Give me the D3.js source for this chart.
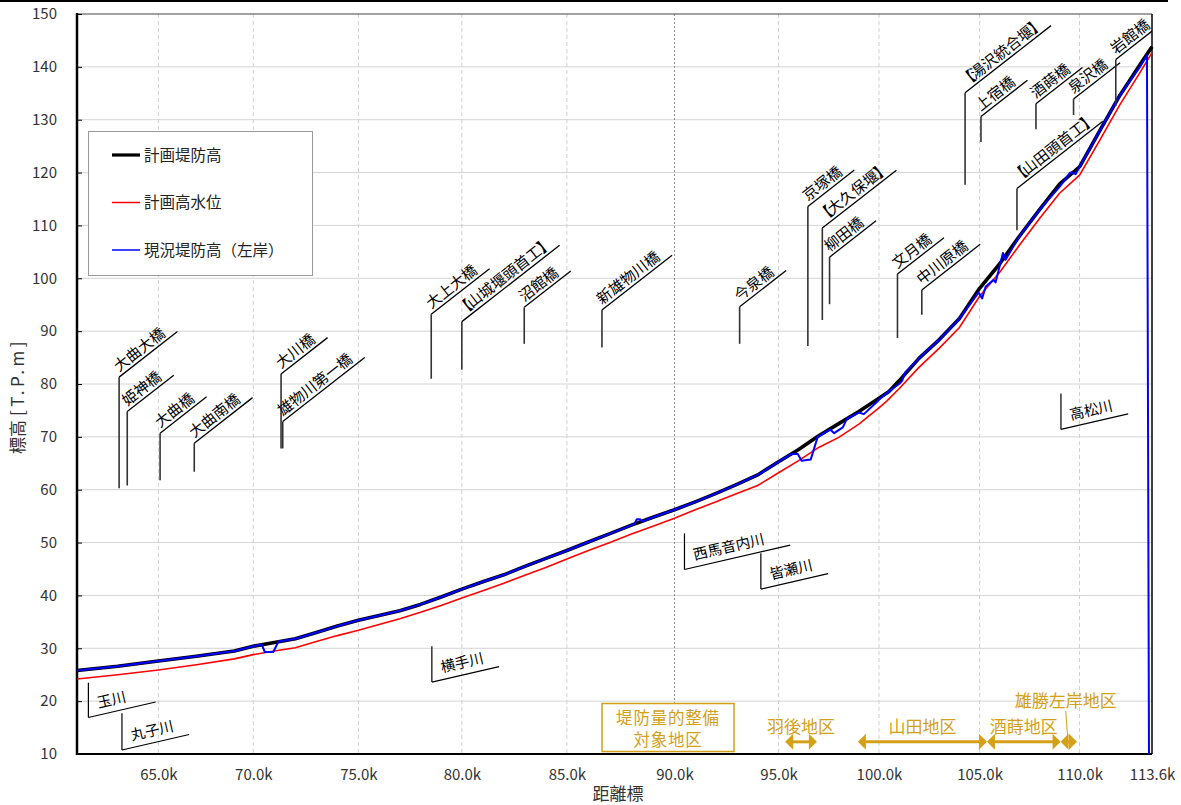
<!DOCTYPE html>
<html><head><meta charset="utf-8">
<script src="https://cdn.jsdelivr.net/npm/d3@7"></script>
<style>body{margin:0;background:#fff}svg{display:block}</style>
</head><body>
<svg id="c" width="1181" height="805"></svg>
<script>
// ---------- data ----------
const yTicks = [10,20,30,40,50,60,70,80,90,100,110,120,130,140,150];
const xTicks = [65,70,75,80,85,90,95,100,105,110,113.6];
const xTickLabels = ["65.0k","70.0k","75.0k","80.0k","85.0k","90.0k","95.0k","100.0k","105.0k","110.0k","113.6k"];
const xStart = 61.0;

// 計画堤防高
const dikeKm = [61.0,63.0,65.0,67.0,69.0,70.0,71.0,72.0,73.0,74.0,75.0,76.0,77.0,78.0,79.0,80.0,81.0,82.0,83.0,84.0,85.0,86.0,87.0,88.0,89.0,90.0,91.0,92.0,93.0,94.0,95.0,96.0,97.0,98.0,99.0,100.0,100.5,101.0,102.0,103.0,104.0,105.0,106.0,107.0,108.0,109.0,110.0,111.0,112.0,113.0,113.6];
const dikeH  = [25.8,26.6,27.6,28.5,29.5,30.4,31.1,31.8,33.0,34.2,35.3,36.2,37.1,38.3,39.7,41.2,42.6,43.9,45.5,47.0,48.5,50.1,51.7,53.3,54.8,56.2,57.7,59.3,61.0,62.8,65.3,67.6,70.2,72.5,74.8,77.3,78.6,80.6,84.9,88.4,92.4,98.1,102.7,108.0,113.0,117.8,121.1,127.9,134.6,140.4,143.8];

// 計画高水位
const hwlKm = [61.0,63.0,65.0,67.0,69.0,70.0,71.0,72.0,73.0,74.0,75.0,76.0,77.0,78.0,79.0,80.0,81.0,82.0,83.0,84.0,85.0,86.0,87.0,88.0,89.0,90.0,91.0,92.0,93.0,94.0,95.0,96.0,97.0,98.0,99.0,100.0,100.4,101.0,102.0,103.0,104.0,105.0,106.0,107.0,108.0,109.0,110.0,111.0,112.0,113.0,113.6];
const hwlH  = [24.2,25.0,25.9,26.9,28.0,28.8,29.5,30.1,31.3,32.4,33.4,34.5,35.6,36.8,38.1,39.5,40.9,42.3,43.8,45.3,46.9,48.5,50.0,51.6,53.1,54.6,56.2,57.7,59.3,60.8,63.2,65.5,68.0,69.9,72.4,75.5,76.8,79.1,83.2,86.8,90.7,96.6,101.1,106.3,111.3,116.1,119.5,126.1,132.8,138.9,142.7];

// 現況堤防高（左岸）
const bankKm = [61.0,63.0,65.0,67.0,69.0,70.0,70.4,70.55,70.95,71.2,72.0,73.0,74.0,75.0,76.0,77.0,78.0,79.0,80.0,81.0,82.0,83.0,84.0,85.0,86.0,87.0,88.0,88.15,88.25,88.4,88.5,89.0,90.0,91.0,92.0,93.0,94.0,95.0,95.6,95.95,96.15,96.6,96.95,97.57,97.77,98.2,98.4,99.0,99.25,99.92,100.07,100.5,101.0,101.15,101.3,102.0,103.0,104.0,104.95,105.13,105.3,105.7,105.8,106.17,106.3,107.0,108.0,109.0,109.53,109.8,110.0,111.0,112.0,113.0,113.35,113.45];
const bankH  = [25.8,26.6,27.6,28.5,29.5,30.4,30.7,29.3,29.3,31.3,31.8,33.0,34.2,35.3,36.2,37.1,38.3,39.7,41.2,42.6,43.9,45.5,47.0,48.5,50.1,51.7,53.3,53.6,54.4,54.4,54.0,54.8,56.2,57.7,59.3,61.0,62.8,65.3,66.7,66.8,65.5,65.7,70.0,71.4,70.7,71.8,73.4,74.6,74.3,76.7,77.3,78.6,80.0,80.6,82.2,84.9,88.4,92.4,97.3,96.2,98.4,99.7,99.2,104.8,103.5,108.0,113.0,117.3,120.0,119.7,121.1,127.9,134.6,140.0,142.2,10.0];

// 橋梁・堰
const bridgeNames = ["大曲大橋","姫神橋","大曲橋","大曲南橋","大川橋","雄物川第一橋","大上大橋","【山城堰頭首工】","沼館橋","新雄物川橋","今泉橋","京塚橋","【大久保堰】","柳田橋","文月橋","中川原橋","【湯沢統合堰】","上宿橋","【山田頭首工】","酒蒔橋","泉沢橋","岩館橋"];
const bridgeKm   = [63.07,63.47,65.09,66.89,71.32,71.40,78.52,80.0,82.97,86.63,93.13,96.46,97.18,97.54,100.92,102.13,104.28,105.07,106.87,107.82,109.7,111.8];
const bridgeLow  = [60.3,60.8,61.8,63.4,67.8,67.8,81.0,82.7,87.6,86.9,87.6,87.2,92.1,95.1,88.7,93.1,117.7,125.8,109.1,128.2,130.9,132.6];
const bridgeHigh = [81.3,74.8,70.7,68.8,81.9,72.9,93.2,91.8,94.5,94.0,94.6,113.6,109.5,104.0,100.8,97.8,135.1,130.6,117.0,133.0,133.9,141.4];

// 支川
const riverNames = ["玉川","丸子川","横手川","西馬音内川","皆瀬川","高松川"];
const riverKm   = [61.56,63.21,78.55,90.48,94.15,109.07];
const riverLow  = [16.9,10.75,23.6,44.9,41.2,71.4];
const riverHigh = [23.5,17.7,30.4,51.75,48.0,78.2];

// 地区
const districtNames = ["羽後地区","山田地区","酒蒔地区","雄勝左岸地区"];
const districtFrom  = [95.33,98.95,105.37,109.05];
const districtTo    = [96.91,105.37,109.05,109.87];
const districtLevel = 12.3;
const targetLines = ["堤防量的整備","対象地区"];
const targetKm = 89.7;

const legendNames = ["計画堤防高","計画高水位","現況堤防高（左岸）"];

// ---------- layout ----------
const M = {l:77, t:14, r:1152, b:754};
const xFrac = [0,0.0757,0.1640,0.2618,0.3580,0.4557,0.5558,0.6526,0.7460,0.8396,0.9326,1];
const x = d3.scaleLinear().domain([xStart, ...xTicks]).range(xFrac.map(f => M.l + f*(M.r-M.l)));
const y = d3.scaleLinear().domain([10,150]).range([M.b, M.t]);
const JP = "'Noto Sans CJK JP','Noto Sans',sans-serif";
const ORANGE = "#d4a017";

const svg = d3.select("#c");
svg.append("rect").attr("width",1181).attr("height",805).attr("fill","#fff");
svg.append("defs").append("clipPath").attr("id","plotclip").append("rect")
  .attr("x",M.l).attr("y",M.t).attr("width",M.r-M.l).attr("height",M.b-M.t);
svg.append("line").attr("x1",0).attr("x2",1168).attr("y1",1).attr("y2",1).attr("stroke","#000").attr("stroke-width",2);

// grid
const grid = svg.append("g");
grid.selectAll("line.h").data(yTicks.filter(d=>d>10 && d<150)).join("line")
  .attr("x1",M.l).attr("x2",M.r).attr("y1",d=>y(d)).attr("y2",d=>y(d))
  .attr("stroke","#d4d4d4").attr("stroke-width",1);
grid.selectAll("line.v").data(xTicks.filter(d=>d<113)).join("line")
  .attr("x1",d=>x(d)).attr("x2",d=>x(d)).attr("y1",M.t).attr("y2",M.b)
  .attr("stroke",d=>d===90?"#8a8a8a":"#d0d0d0").attr("stroke-width",1)
  .attr("stroke-dasharray",d=>d===90?"2,2":"4,3");

// frame
svg.append("line").attr("x1",M.l).attr("x2",M.r).attr("y1",M.t).attr("y2",M.t).attr("stroke","#444").attr("stroke-width",1);
svg.append("line").attr("x1",M.r).attr("x2",M.r).attr("y1",M.t).attr("y2",M.b).attr("stroke","#000").attr("stroke-width",1.5);

// axes
const yAxis = svg.append("g").attr("transform",`translate(${M.l},0)`)
  .call(d3.axisLeft(y).tickValues(yTicks).tickSize(-5).tickPadding(20).tickFormat(d3.format("d")));
yAxis.select(".domain").remove();
yAxis.selectAll("line").attr("stroke","#000");
yAxis.selectAll("text").attr("font-family",JP).attr("font-size",15).attr("fill","#333");

const xAxis = svg.append("g").attr("transform",`translate(0,${M.b})`)
  .call(d3.axisBottom(x).tickValues(xTicks).tickSize(0).tickPadding(15).tickFormat((d,i)=>xTickLabels[i]));
xAxis.select(".domain").remove();
xAxis.selectAll("text").attr("font-family",JP).attr("font-size",15).attr("fill","#333");

svg.append("line").attr("x1",M.l).attr("x2",M.l).attr("y1",M.t-1).attr("y2",M.b+1).attr("stroke","#000").attr("stroke-width",2.5);
svg.append("line").attr("x1",M.l).attr("x2",M.r).attr("y1",M.b).attr("y2",M.b).attr("stroke","#000").attr("stroke-width",2);

const yt = svg.append("text").attr("transform",`translate(24,396) rotate(-90)`).attr("text-anchor","middle")
  .attr("font-family",JP).attr("font-size",17).attr("fill","#333");
yt.append("tspan").text("標高 ");
yt.append("tspan").attr("letter-spacing",3.5).text("[T.P.m]");
svg.append("text").attr("x",618).attr("y",800).attr("text-anchor","middle")
  .attr("font-family",JP).attr("font-size",17).attr("fill","#333").text("距離標");

// series
const line = d3.line().x(d=>x(d[0])).y(d=>y(d[1]));
svg.append("path").datum(d3.zip(dikeKm,dikeH)).attr("d",line).attr("fill","none").attr("stroke","#000").attr("stroke-width",3.6).attr("stroke-linejoin","round");
svg.append("path").datum(d3.zip(hwlKm,hwlH)).attr("d",line).attr("fill","none").attr("stroke","#ff0000").attr("stroke-width",1.6);
svg.append("path").datum(d3.zip(bankKm,bankH)).attr("d",line).attr("fill","none").attr("stroke","#0000ff").attr("stroke-width",2).attr("stroke-linejoin","round");

// bridges
const bgLines = svg.append("g").attr("clip-path","url(#plotclip)");
const bg = svg.append("g");
bridgeNames.forEach((name,i)=>{
  const px = x(bridgeKm[i]), yb = y(bridgeLow[i]), ytop = y(bridgeHigh[i]);
  bgLines.append("line").attr("x1",px).attr("x2",px).attr("y1",yb).attr("y2",ytop).attr("stroke","#333").attr("stroke-width",1.6);
  const tr = `translate(${px},${ytop}) rotate(-38)`;
  const g = bg.append("g").attr("transform",tr);
  const t = g.append("text").attr("x",3).attr("y",-4).attr("font-family",JP).attr("font-size",15).attr("fill","#000");
  const br = name.startsWith("【");
  if (br) {
    t.append("tspan").text("【");
    t.append("tspan").attr("dx",-2).text(name.slice(1,-1));
    t.append("tspan").attr("dx",-1).text("】");
  } else t.text(name);
  let L = t.node().getComputedTextLength() + (br ? 4 : 14);
  bgLines.append("g").attr("transform",tr).append("line")
    .attr("x1",0).attr("y1",0).attr("x2",L).attr("y2",0).attr("stroke","#000").attr("stroke-width",1.3);
});

// tributaries
const rg = svg.append("g");
riverNames.forEach((name,i)=>{
  const px = x(riverKm[i]), yb = y(riverLow[i]), ytop = y(riverHigh[i]);
  rg.append("line").attr("x1",px).attr("x2",px).attr("y1",yb).attr("y2",ytop).attr("stroke","#000").attr("stroke-width",1.2);
  const g = rg.append("g").attr("transform",`translate(${px},${yb}) rotate(-13)`);
  const t = g.append("text").attr("x",12).attr("y",-7).attr("font-family",JP).attr("font-size",14.5).attr("fill","#000").text(name);
  const tl = t.node().getComputedTextLength();
  const L = tl < 46 ? 69 : tl + 36;
  g.append("line").attr("x1",0).attr("y1",0).attr("x2",L).attr("y2",0).attr("stroke","#000").attr("stroke-width",1.2);
});

// districts
const dg = svg.append("g");
const ay = y(districtLevel);
function head(xTip, dir){
  const w = 8, h = 8;
  return `M${xTip},${ay} L${xTip - dir*w},${ay-h} L${xTip - dir*w},${ay+h} Z`;
}
districtNames.forEach((name,i)=>{
  const x1 = x(districtFrom[i]), x2 = x(districtTo[i]);
  dg.append("line").attr("x1",x1+4).attr("x2",x2-4).attr("y1",ay).attr("y2",ay).attr("stroke",ORANGE).attr("stroke-width",3);
  dg.append("path").attr("d",head(x1,-1)).attr("fill",ORANGE);
  dg.append("path").attr("d",head(x2,1)).attr("fill",ORANGE);
  const last = i === districtNames.length-1;
  const cx = last ? (x1+x2)/2 - 3 : (x1+x2)/2;
  dg.append("text").attr("x",cx).attr("y",last?ay-35:ay-9).attr("text-anchor","middle")
    .attr("font-family",JP).attr("font-size",17).attr("fill",ORANGE).text(name);
  if (last) dg.append("line").attr("x1",cx).attr("x2",cx+2).attr("y1",ay-31).attr("y2",ay-4).attr("stroke",ORANGE).attr("stroke-width",1);
});
const tx = x(targetKm);
dg.append("rect").attr("x",tx-66).attr("y",703.5).attr("width",132).attr("height",48).attr("fill","#fff").attr("stroke",ORANGE).attr("stroke-width",1.5);
targetLines.forEach((s,i)=>{
  dg.append("text").attr("x",tx).attr("y",723.5+i*22.5).attr("text-anchor","middle")
    .attr("font-family",JP).attr("font-size",16.5).attr("letter-spacing",0.8).attr("fill",ORANGE).text(s);
});

// legend
const lg = svg.append("g");
lg.append("rect").attr("x",88.5).attr("y",131.5).attr("width",224).attr("height",144).attr("fill","#fff").attr("stroke","#9a9a9a");
const legStroke = [["#000",3.2],["#ff0000",1.5],["#0000ff",1.5]];
legendNames.forEach((n,i)=>{
  const ly = 155 + i*47.5;
  lg.append("line").attr("x1",112).attr("x2",140).attr("y1",ly).attr("y2",ly).attr("stroke",legStroke[i][0]).attr("stroke-width",legStroke[i][1]);
  lg.append("text").attr("x",144).attr("y",ly+5.5).attr("font-family",JP).attr("font-size",15.5).attr("fill","#222").text(n);
});
</script>
</body></html>
